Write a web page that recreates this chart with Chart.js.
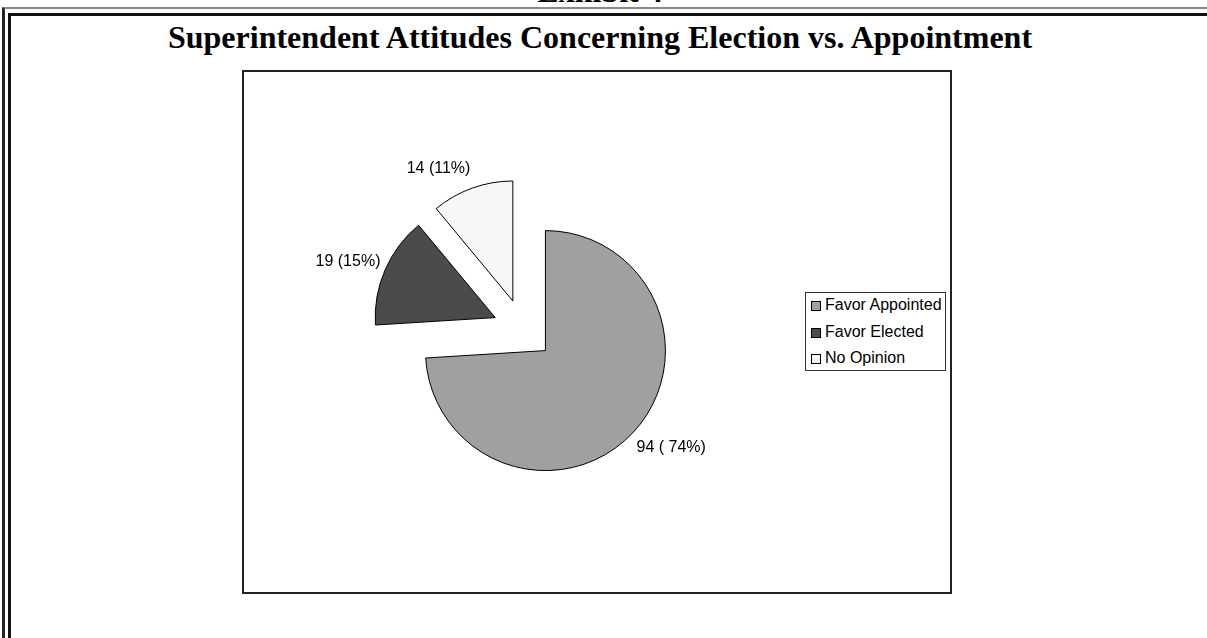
<!DOCTYPE html>
<html>
<head>
<meta charset="utf-8">
<script src="https://cdn.jsdelivr.net/npm/chart.js@4.4.0/dist/chart.umd.min.js"></script>
<style>
html,body{margin:0;padding:0;background:#fff;}
body{width:1207px;height:638px;position:relative;overflow:hidden;font-family:"Liberation Sans",Arial,sans-serif;}
.frame{position:absolute;width:1400px;height:900px;}
#outer{left:2px;top:7px;border-left:3px solid #222;border-top:2px solid #8a8a8a;}
#inner{left:8px;top:13px;border-left:3px solid #111;border-top:3px solid #111;}
.head{position:absolute;left:0;width:1200px;text-align:center;font-family:"Liberation Serif","Times New Roman",serif;font-weight:bold;font-size:32px;line-height:32px;color:#000;white-space:nowrap;}
#exhibit{top:-25px;}
#title{top:21px;}
#box{position:absolute;left:242px;top:70px;width:706px;height:520px;border:2px solid #222;}
#legend{position:absolute;left:805px;top:292px;width:139px;height:77px;border:1px solid #333;background:#fff;}
.item{position:absolute;left:5px;height:18px;line-height:18px;font-size:16px;color:#000;white-space:nowrap;}
.swatch{position:absolute;left:0;top:5px;width:8px;height:8px;border:1px solid #000;}
.item span.txt{position:absolute;left:14px;top:0;}
#chart{position:absolute;left:0;top:0;}
</style>
</head>
<body>
<div id="outer" class="frame"></div>
<div id="inner" class="frame"></div>
<div id="exhibit" class="head">Exhibit 4</div>
<div id="title" class="head">Superintendent Attitudes Concerning Election vs. Appointment</div>
<div id="box"></div>
<canvas id="chart" width="1207" height="638"></canvas>
<div id="legend"></div>
<script>
// ---- data ----
const categories = ["Favor Appointed", "Favor Elected", "No Opinion"];
const counts = [94, 19, 14];
const sliceLabels = ["94 ( 74%)", "19 (15%)", "14 (11%)"];
// ---- styles ----
const sliceColors = ["#a0a0a0", "#4b4b4b", "#f8f8f8"];
const EXPLODE = 30.5;
const RADIUS = 120;
const LABEL_GAP = 5;

// legend (HTML, built from the arrays)
const legend = document.getElementById('legend');
const rowCenters = [12, 39, 65];
categories.forEach((c, i) => {
  const it = document.createElement('div');
  it.className = 'item';
  it.style.top = (rowCenters[i] - 9) + 'px';
  const sw = document.createElement('div');
  sw.className = 'swatch';
  sw.style.background = sliceColors[i];
  const tx = document.createElement('span');
  tx.className = 'txt';
  tx.textContent = c;
  it.appendChild(sw); it.appendChild(tx);
  legend.appendChild(it);
});

const explodeAndLabel = {
  id: 'explodeAndLabel',
  beforeDatasetsDraw(chart) {
    const meta = chart.getDatasetMeta(0);
    meta.data.forEach(arc => {
      const mid = (arc.startAngle + arc.endAngle) / 2;
      arc._ox = arc.x; arc._oy = arc.y;
      arc.x += Math.cos(mid) * EXPLODE;
      arc.y += Math.sin(mid) * EXPLODE;
    });
  },
  afterDatasetsDraw(chart) {
    const ctx = chart.ctx;
    const meta = chart.getDatasetMeta(0);
    ctx.save();
    ctx.font = '16px "Liberation Sans", Arial, sans-serif';
    ctx.fillStyle = '#000';
    meta.data.forEach((arc, i) => {
      const mid = (arc.startAngle + arc.endAngle) / 2;
      const r = arc.outerRadius + LABEL_GAP;
      const c = Math.cos(mid), s = Math.sin(mid);
      const ax = arc.x + c * r;
      const ay = arc.y + s * r;
      ctx.textAlign = c >= 0 ? 'left' : 'right';
      ctx.textBaseline = 'middle';
      ctx.fillText(sliceLabels[i], ax, ay + s * 16);
    });
    ctx.restore();
    meta.data.forEach(arc => { arc.x = arc._ox; arc.y = arc._oy; });
  }
};

new Chart(document.getElementById('chart'), {
  type: 'pie',
  data: {
    labels: categories,
    datasets: [{
      data: counts,
      backgroundColor: sliceColors,
      borderColor: '#000',
      borderWidth: 1,
      radius: RADIUS
    }]
  },
  options: {
    responsive: false,
    animation: false,
    events: [],
    layout: { padding: { left: 0, top: 21.4, right: 160.6, bottom: 0 } },
    plugins: { legend: { display: false }, tooltip: { enabled: false }, title: { display: false } }
  },
  plugins: [explodeAndLabel]
});
</script>
</body>
</html>
